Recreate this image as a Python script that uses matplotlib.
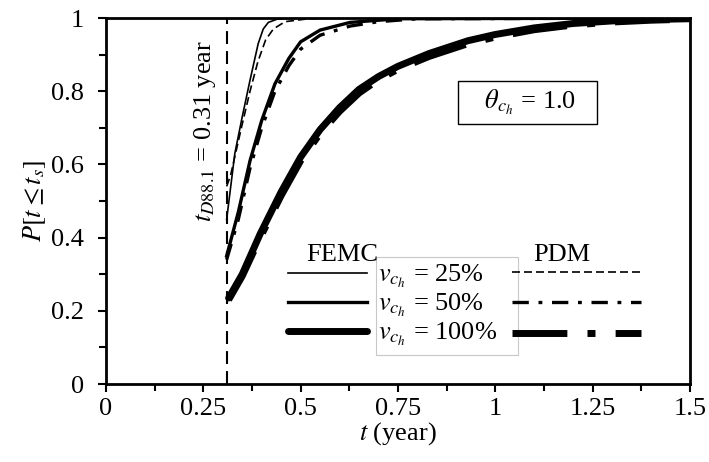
import matplotlib
matplotlib.use('Agg')
import matplotlib.pyplot as plt
from matplotlib.patches import Rectangle
from matplotlib.lines import Line2D

plt.rcParams['font.family'] = ['Liberation Serif', 'DejaVu Serif']
plt.rcParams['mathtext.fontset'] = 'stix'
plt.rcParams['font.size'] = 19

# vertical marker
t_D = 0.31

# FEMC curves
t_femc25 = [0.31, 0.331, 0.35, 0.37, 0.391, 0.404, 0.417, 0.44, 0.5, 1.5]
p_femc25 = [0.45, 0.63, 0.73, 0.83, 0.93, 0.97, 0.988, 0.997, 1.0, 1.0]
t_femc50 = [0.31, 0.34, 0.37, 0.40, 0.434, 0.47, 0.50, 0.55, 0.627, 0.75, 1.5]
p_femc50 = [0.35, 0.47, 0.61, 0.72, 0.82, 0.89, 0.935, 0.967, 0.988, 0.998, 1.0]
t_femc100 = [0.315, 0.35, 0.396, 0.45, 0.50, 0.55, 0.60, 0.65, 0.70, 0.75, 0.83,
             0.93, 1.0, 1.1, 1.2, 1.3, 1.4, 1.5]
p_femc100 = [0.235, 0.30, 0.41, 0.525, 0.62, 0.695, 0.755, 0.805, 0.84, 0.868, 0.903,
             0.938, 0.955, 0.973, 0.985, 0.992, 0.996, 0.998]

# PDM curves
t_pdm25 = [0.31, 0.32, 0.335, 0.35, 0.37, 0.39, 0.41, 0.43, 0.46, 0.52, 0.6, 1.5]
p_pdm25 = [0.54, 0.57, 0.64, 0.71, 0.80, 0.88, 0.94, 0.97, 0.99, 0.998, 1.0, 1.0]
t_pdm50 = [0.31, 0.34, 0.37, 0.40, 0.434, 0.47, 0.50, 0.55, 0.627, 0.70, 0.80, 1.5]
p_pdm50 = [0.34, 0.45, 0.59, 0.70, 0.80, 0.87, 0.915, 0.953, 0.978, 0.99, 0.998, 1.0]
t_pdm100 = [0.315, 0.35, 0.396, 0.45, 0.50, 0.55, 0.60, 0.65, 0.70, 0.75, 0.83,
            0.93, 1.0, 1.1, 1.2, 1.3, 1.4, 1.5]
p_pdm100 = [0.23, 0.295, 0.40, 0.515, 0.61, 0.685, 0.745, 0.795, 0.832, 0.86, 0.895,
            0.93, 0.948, 0.968, 0.981, 0.989, 0.994, 0.997]

labels = [r'$v_{c_h}$ = 25%', r'$v_{c_h}$ = 50%', r'$v_{c_h}$ = 100%']

fig = plt.figure(figsize=(7.09, 4.62), dpi=100)
ax = fig.add_axes([0.1495, 0.1688, 0.8235, 0.7922])

lw = [1.2, 2.4, 5.0]
pdm_dash = [(0, (4.8, 2.4)), (0, (4.9, 2.9, 1.15, 2.9)), (0, (7.9, 2.9, 1.15, 2.9))]

f1, = ax.plot(t_femc25, p_femc25, color='black', lw=lw[0])
f2, = ax.plot(t_femc50, p_femc50, color='black', lw=lw[1])
f3, = ax.plot(t_femc100, p_femc100, color='black', lw=lw[2], solid_capstyle='round')
ax.plot(t_pdm25, p_pdm25, color='black', lw=lw[0], linestyle=pdm_dash[0])
ax.plot(t_pdm50, p_pdm50, color='black', lw=lw[1], linestyle=pdm_dash[1])
ax.plot(t_pdm100, p_pdm100, color='black', lw=lw[2], linestyle=pdm_dash[2])

ax.axvline(t_D, color='black', lw=1.5, linestyle=(0, (6.2, 3.4)))
ax.text(t_D - 0.055, 0.69, r'$t_{D88.1}$ = 0.31 year', rotation=90,
        ha='center', va='center')

ax.text(1.083, 0.769, r'   $\theta_{c_h}$ = 1.0   ', ha='center', va='center',
        bbox=dict(boxstyle='square,pad=0.25', fc='white', ec='black', lw=1.0))

ax.set_xlim(0, 1.5)
ax.set_ylim(0, 1)
ax.set_xticks([0, 0.25, 0.5, 0.75, 1, 1.25, 1.5])
ax.set_xticklabels(['0', '0.25', '0.5', '0.75', '1', '1.25', '1.5'])
ax.set_xticks([0.125, 0.375, 0.625, 0.875, 1.125, 1.375], minor=True)
ax.set_yticks([0, 0.2, 0.4, 0.6, 0.8, 1])
ax.set_yticklabels(['0', '0.2', '0.4', '0.6', '0.8', '1'])
ax.set_yticks([0.1, 0.3, 0.5, 0.7, 0.9], minor=True)
ax.tick_params(axis='both', which='major', direction='out', length=6, width=1.5)
ax.tick_params(axis='both', which='minor', direction='out', length=5, width=1.5)
ax.tick_params(axis='y', which='major', pad=10)
ax.tick_params(axis='x', which='major', pad=4)
for s in ax.spines.values():
    s.set_linewidth(2)

ax.set_xlabel(r'$t$ (year)', labelpad=0)
ax.set_ylabel(r'$P[t \leq t_s]$', labelpad=2)

# gray box behind legend labels
ax.add_patch(Rectangle((0.462, 0.079), 0.243, 0.269, transform=ax.transAxes,
                       fc='white', ec='#c8c8c8', lw=0.8, zorder=3))

leg1 = ax.legend([f1, f2, f3], labels, loc='upper left', bbox_to_anchor=(0.289, 0.367),
                 frameon=False, handlelength=3.0, handletextpad=0.42, borderpad=0,
                 labelspacing=0.08, fontsize=19)
leg1.set_zorder(4)
ax.add_artist(leg1)
h1 = Line2D([], [], color='black', lw=lw[0], linestyle=pdm_dash[0])
h2 = Line2D([], [], color='black', lw=lw[1], linestyle=pdm_dash[1])
h3 = Line2D([], [], color='black', lw=lw[2], linestyle=pdm_dash[2])
leg2 = ax.legend([h1, h2, h3], ['', '', ''], loc='upper left', bbox_to_anchor=(0.673, 0.367),
                 frameon=False, handlelength=4.9, handletextpad=0.0, borderpad=0,
                 labelspacing=0.26, fontsize=19, markerfirst=False)
leg2.set_zorder(4)

ax.text(0.405, 0.352, 'FEMC', transform=ax.transAxes, ha='center', va='center', zorder=5)
ax.text(0.78, 0.352, 'PDM', transform=ax.transAxes, ha='center', va='center', zorder=5)

fig.savefig('out.png', dpi=100)
